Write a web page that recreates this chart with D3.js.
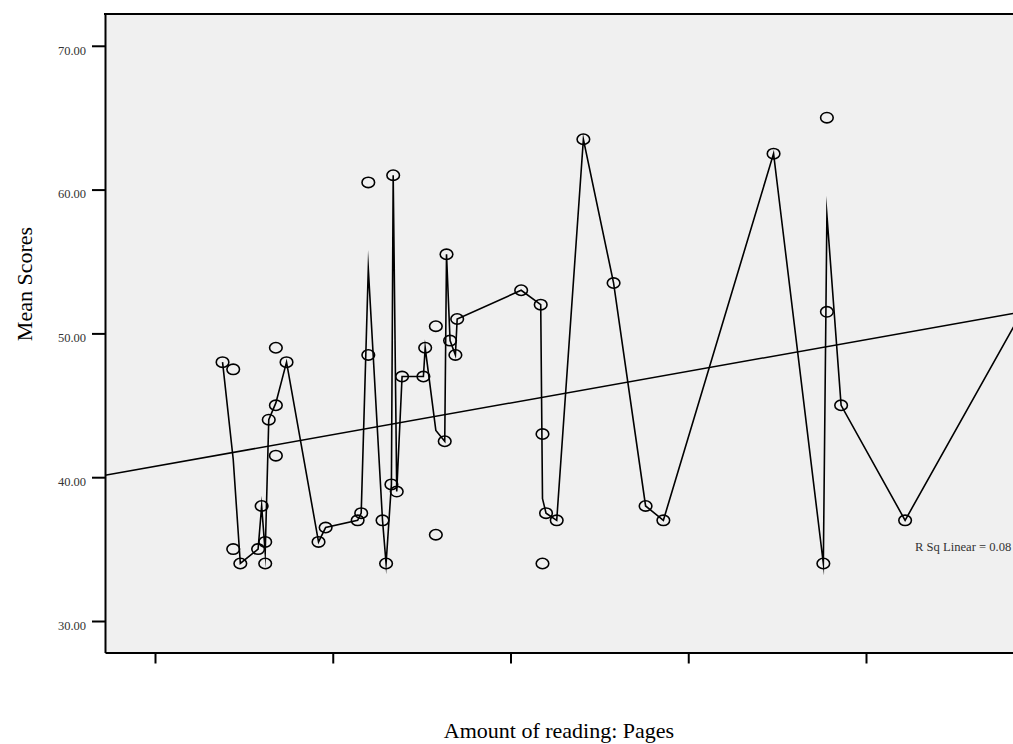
<!DOCTYPE html>
<html>
<head>
<meta charset="utf-8">
<script src="https://cdn.jsdelivr.net/npm/d3@7"></script>
<style>
  body { margin: 0; background: #fff; }
  svg { display: block; font-family: 'Liberation Serif', 'Times New Roman', serif; }
</style>
</head>
<body>
<svg id="chart" width="1013" height="744"></svg>
<script>
// amount of reading (pages) and mean score, one entry per case
const pages = [138, 144, 144, 148, 158, 160, 162, 162, 164, 168, 168, 168, 174,
    192, 196, 214, 216, 220, 220, 228, 230, 233, 234, 236, 239, 251, 252, 258, 258,
    263, 264, 266, 269, 270, 306, 317, 318, 318, 320, 326, 341, 358, 376, 386,
    448, 476, 478, 478, 486, 522, 590];
const scores = [48.0, 47.5, 35.0, 34.0, 35.0, 38.0, 35.5, 34.0, 44.0, 49.0, 45.0, 41.5, 48.0,
    35.5, 36.5, 37.0, 37.5, 60.5, 48.5, 37.0, 34.0, 39.5, 61.0, 39.0, 47.0, 47.0, 49.0, 50.5, 36.0,
    42.5, 55.5, 49.5, 48.5, 51.0, 53.0, 52.0, 43.0, 34.0, 37.5, 37.0, 63.5, 53.5, 38.0, 37.0,
    62.5, 34.0, 65.0, 51.5, 45.0, 37.0, 52.0];

const yTicks = [30, 40, 50, 60, 70];
const xTicks = [100, 200, 300, 400, 500];
const rSqText = 'R Sq Linear = 0.08';
const xTitle = 'Amount of reading: Pages';
const yTitle = 'Mean Scores';

let svg = d3.select('#chart'),
    plotLeft = 105, plotTop = 14, plotRight = 1013, plotBottom = 652.5;

let x = d3.scaleLinear().domain([71.87, 582.7]).range([plotLeft, plotRight]);
let y = d3.scaleLinear().domain([27.81, 72.21]).range([plotBottom, plotTop]);

svg.append('rect')
    .attr('x', plotLeft).attr('y', plotTop)
    .attr('width', plotRight - plotLeft).attr('height', plotBottom - plotTop)
    .attr('fill', '#f0f0f0');

svg.append('clipPath').attr('id', 'plot-clip')
    .append('rect')
    .attr('x', plotLeft).attr('y', plotTop)
    .attr('width', plotRight - plotLeft).attr('height', plotBottom - plotTop);

let plot = svg.append('g').attr('clip-path', 'url(#plot-clip)');

let data = pages.map(function (p, i) { return [p, scores[i]]; });

// fit line (least squares)
let mx = d3.mean(pages), my = d3.mean(scores);
let sxy = d3.sum(data, function (d) { return (d[0] - mx) * (d[1] - my); });
let sxx = d3.sum(pages, function (p) { return (p - mx) * (p - mx); });
let slope = sxy / sxx, icpt = my - slope * mx;
let fitX = x.domain();

plot.append('line')
    .attr('x1', x(fitX[0])).attr('y1', y(icpt + slope * fitX[0]))
    .attr('x2', x(fitX[1])).attr('y2', y(icpt + slope * fitX[1]))
    .attr('stroke', '#000').attr('stroke-width', 1.5);

// interpolation line goes through the mean score at each x
let means = Array.from(d3.rollup(data, function (v) { return d3.mean(v, function (d) { return d[1]; }); },
    function (d) { return d[0]; }))
    .sort(function (a, b) { return a[0] - b[0]; });

let line = d3.line()
    .x(function (d) { return x(d[0]); })
    .y(function (d) { return y(d[1]); });

plot.append('path')
    .datum(means)
    .attr('d', line)
    .attr('fill', 'none')
    .attr('stroke', '#000')
    .attr('stroke-width', 1.6)
    .attr('stroke-linejoin', 'miter')
    .attr('stroke-miterlimit', 30);

plot.selectAll('.pt')
    .data(data)
    .enter().append('ellipse')
    .attr('class', 'pt')
    .attr('cx', function (d) { return x(d[0]); })
    .attr('cy', function (d) { return y(d[1]); })
    .attr('rx', 6.3).attr('ry', 5.2)
    .attr('fill', 'none')
    .attr('stroke', '#000')
    .attr('stroke-width', 1.6);

// axes
let yAxis = svg.append('g')
    .attr('transform', 'translate(' + plotLeft + ',0)')
    .call(d3.axisLeft(y).tickValues(yTicks).tickFormat(d3.format('.2f'))
        .tickSize(13).tickSizeOuter(0).tickPadding(6));

let xAxis = svg.append('g')
    .attr('transform', 'translate(0,' + plotBottom + ')')
    .call(d3.axisBottom(x).tickValues(xTicks).tickFormat('')
        .tickSize(11).tickSizeOuter(0));

yAxis.attr('font-family', null).attr('font-size', null);
xAxis.attr('font-family', null).attr('font-size', null);

svg.selectAll('.domain, .tick line')
    .attr('stroke', '#000')
    .attr('stroke-width', 2);

yAxis.selectAll('.tick text')
    .attr('dy', '0.66em')
    .attr('fill', '#333')
    .style('font-size', '12.5px');

svg.append('line')
    .attr('x1', plotLeft - 1).attr('y1', plotTop)
    .attr('x2', plotRight).attr('y2', plotTop)
    .attr('stroke', '#000').attr('stroke-width', 2);

svg.append('text')
    .attr('x', 915).attr('y', 551)
    .attr('fill', '#333')
    .style('font-size', '12.6px')
    .text(rSqText);

svg.append('text')
    .attr('x', (plotLeft + plotRight) / 2).attr('y', 738)
    .attr('text-anchor', 'middle')
    .style('font-size', '22px')
    .text(xTitle);

svg.append('text')
    .attr('transform', 'translate(32,' + 284 + ') rotate(-90)')
    .attr('text-anchor', 'middle')
    .style('font-size', '22px')
    .text(yTitle);
</script>
</body>
</html>
